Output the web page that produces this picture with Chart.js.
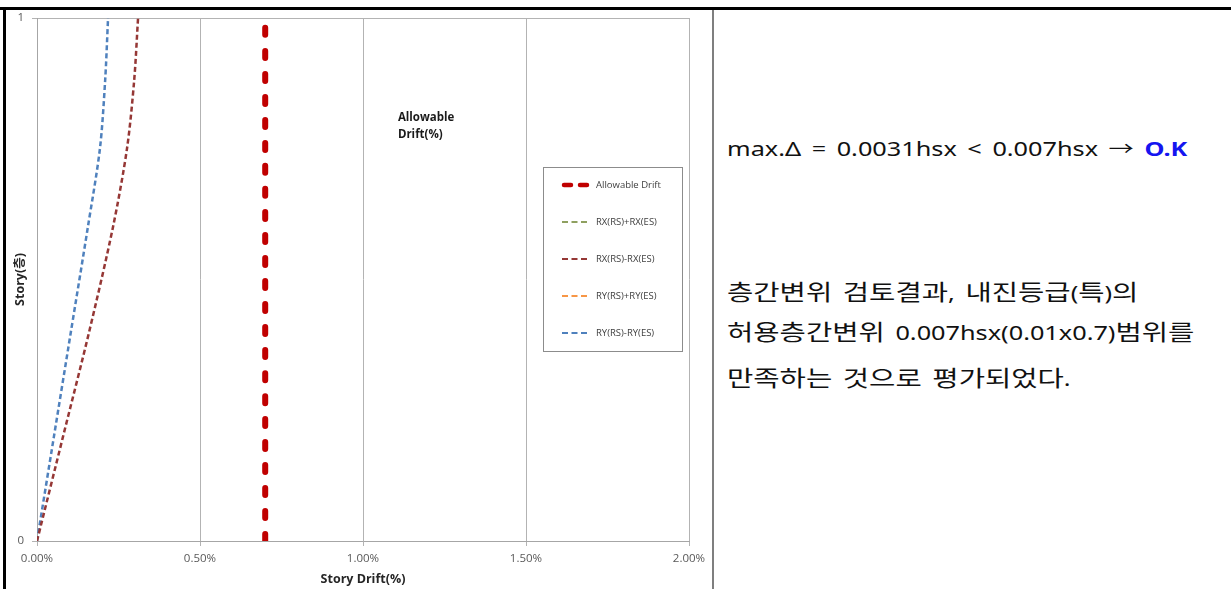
<!DOCTYPE html>
<html>
<head>
<meta charset="utf-8">
<script src="https://cdn.jsdelivr.net/npm/chart.js@4"></script>
<style>
  body { margin: 0; width: 1231px; height: 589px; background: #fff; position: relative; overflow: hidden; }
  #chart-box { position: absolute; left: 0; top: 0; width: 712px; height: 589px; }
  .rule { position: absolute; }
  .note { position: absolute; left: 727px; font-family: "Noto Sans", "Noto Sans CJK KR", sans-serif;
          font-size: 19px; line-height: 26px; word-spacing: 3px;
          color: #111; white-space: pre; transform: scaleX(1.33); transform-origin: 0 0; }
  .note .k { font-family: "Noto Sans CJK KR", sans-serif; font-size: 21.5px; }
  .ok { color: #1515f0; font-weight: bold; }
</style>
</head>
<body>
<div id="chart-box"><canvas id="drift-graph" width="712" height="589"></canvas></div>
<div class="rule" style="left:0;top:7px;width:1231px;height:3px;background:#000"></div>
<div class="rule" style="left:3px;top:7px;width:3px;height:582px;background:#000"></div>
<div class="rule" style="left:712px;top:10px;width:2px;height:579px;background:#7f7f7f"></div>

<div class="note" style="top:136px">max.Δ = 0.0031hsx &lt; 0.007hsx → <span class="ok">O.K</span></div>
<div class="note" style="top:278px"><span class="k">층간변위</span> <span class="k">검토결과</span>, <span class="k">내진등급</span>(<span class="k">특</span>)<span class="k">의</span></div>
<div class="note" style="top:318px"><span class="k">허용층간변위</span> 0.007hsx(0.01x0.7)<span class="k">범위를</span></div>
<div class="note" style="top:364px"><span class="k">만족하는</span> <span class="k">것으로</span> <span class="k">평가되었다</span>.</div>

<script>
// story height ratio (0 = base, 1 = roof)
var storyLevels = [0, 0.2, 0.4, 0.6, 0.75, 0.88, 1.0];
// drift in percent
var allowableDrift = 0.70;
var rxPlus = [];
var rxMinus = [0, 0.080, 0.160, 0.233, 0.276, 0.298, 0.310];
var ryPlus = [];
var ryMinus = [0, 0.052, 0.104, 0.156, 0.193, 0.209, 0.218];
var xTicks = [0, 0.5, 1.0, 1.5, 2.0];

function pairs(drifts) {
    var out = [];
    for (var i = 0; i < drifts.length; i++) {
        out.push({x: drifts[i], y: storyLevels[i]});
    }
    return out;
}

var baseFont = "'Open Sans', 'Noto Sans CJK KR', sans-serif";

// boxed legend inside the plot + the "Allowable Drift(%)" label
var boxLegend = {
    id: "boxLegend",
    afterDraw: function (chart) {
        var ctx = chart.ctx;
        var xs = chart.scales.x, ys = chart.scales.y;
        ctx.save();

        ctx.font = "bold 11.5px " + baseFont;
        ctx.fillStyle = "#1a1a1a";
        ctx.textBaseline = "middle";
        ctx.textAlign = "left";
        var lx = xs.getPixelForValue(1.107), ly = ys.getPixelForValue(0.81);
        ctx.fillText("Allowable", lx, ly);
        ctx.fillText("Drift(%)", lx, ly + 17);

        ctx.fillStyle = "#fff";
        ctx.fillRect(543, 167, 139, 184);
        ctx.strokeStyle = "#8c8c8c";
        ctx.lineWidth = 1;
        ctx.strokeRect(543.5, 167.5, 139, 184);

        ctx.font = "9.5px " + baseFont;
        chart.data.datasets.forEach(function (ds, i) {
            var y = 185 + i * 37;
            ctx.beginPath();
            ctx.strokeStyle = ds.borderColor;
            ctx.lineWidth = i === 0 ? 4.5 : 2;
            ctx.lineCap = i === 0 ? "round" : "butt";
            ctx.setLineDash(i === 0 ? [7, 9] : [6, 3.5]);
            ctx.moveTo(i === 0 ? 564 : 562, y);
            ctx.lineTo(590, y);
            ctx.stroke();
            ctx.setLineDash([]);
            ctx.fillStyle = "#404040";
            ctx.fillText(ds.label, 596, y);
        });
        ctx.restore();
    }
};

var graph = new Chart(document.getElementById("drift-graph").getContext("2d"), {
    type: "scatter",
    data: {
        datasets: [{
            label: "Allowable Drift",
            data: [{x: allowableDrift, y: 0}, {x: allowableDrift, y: 1}],
            borderColor: "#c00000",
            borderWidth: 6,
            borderDash: [7, 16],
            borderCapStyle: "round"
        }, {
            label: "RX(RS)+RX(ES)",
            data: pairs(rxPlus),
            borderColor: "#8fa060"
        }, {
            label: "RX(RS)-RX(ES)",
            data: pairs(rxMinus),
            borderColor: "#953735"
        }, {
            label: "RY(RS)+RY(ES)",
            data: pairs(ryPlus),
            borderColor: "#f79646"
        }, {
            label: "RY(RS)-RY(ES)",
            data: pairs(ryMinus),
            borderColor: "#4f81bd"
        }].map(function (ds, i) {
            ds.showLine = true;
            ds.pointRadius = 0;
            ds.tension = 0.3;
            if (i > 0) {
                ds.borderWidth = 2.5;
                ds.borderDash = [5, 3];
            }
            return ds;
        })
    },
    plugins: [boxLegend],
    options: {
        responsive: false,
        animation: false,
        layout: { padding: { top: 18, right: 23, left: 0, bottom: 0 } },
        plugins: { legend: { display: false }, tooltip: { enabled: false } },
        scales: {
            x: {
                type: "linear",
                min: 0, max: 2,
                afterBuildTicks: function (s) { s.ticks = xTicks.map(function (v) { return {value: v}; }); },
                afterFit: function (s) { s.height = 48; },
                ticks: {
                    color: "#595959", padding: 6,
                    font: { family: baseFont, size: 11.5 },
                    callback: function (v) { return v.toFixed(2) + "%"; }
                },
                grid: { color: "#b3b3b3", tickLength: 5, drawOnChartArea: true },
                border: { color: "#a6a6a6" },
                title: {
                    display: true, text: "Story Drift(%)", color: "#262626",
                    font: { family: baseFont, size: 12.5, weight: "bold" },
                    padding: { top: 0, bottom: 2 }
                }
            },
            y: {
                type: "linear",
                min: 0, max: 1,
                afterBuildTicks: function (s) { s.ticks = [{value: 0}, {value: 1}]; },
                afterFit: function (s) { s.width = 37; },
                ticks: { color: "#595959", padding: 8, font: { family: baseFont, size: 11.5 } },
                grid: { color: "#b3b3b3", tickLength: 5 },
                border: { color: "#a6a6a6" },
                title: {
                    display: true, text: "Story(층)", color: "#262626",
                    font: { family: baseFont, size: 12.5, weight: "bold" },
                    padding: { top: 13, bottom: 0 }
                }
            }
        }
    }
});
</script>
</body>
</html>
